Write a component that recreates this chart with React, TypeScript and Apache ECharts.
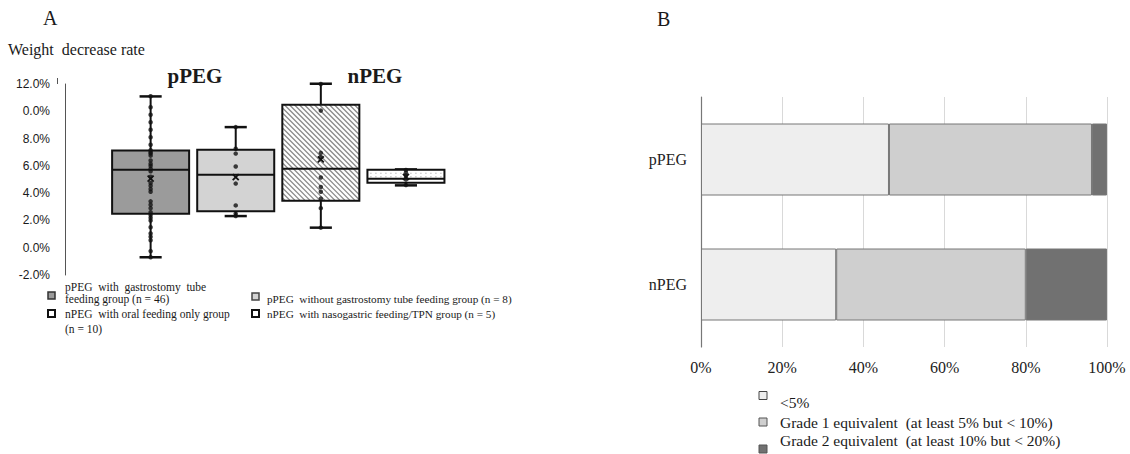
import React, { useEffect, useRef } from "react";
import * as echarts from "echarts";

// ---------- Panel A data ----------
const groupNames = [
  "pPEG with gastrostomy tube feeding group (n = 46)",
  "pPEG without gastrostomy tube feeding group (n = 8)",
  "nPEG with oral feeding only group (n = 10)",
  "nPEG with nasogastric feeding/TPN group (n = 5)",
];
// [min, Q1, median, Q3, max] in %
const boxStats = [
  [-0.7, 2.49, 5.72, 7.13, 11.09],
  [2.32, 2.68, 5.35, 7.18, 8.84],
  [1.47, 3.45, 5.79, 10.48, 12.02],
  [4.57, 4.77, 5.05, 5.72, 5.74],
];
const groupMeans = [5.06, 5.18, 6.47, 5.2];
const dotsG1 = [11.1, 10.3, 9.75, 9.2, 8.65, 8.1, 7.55, 7.15, 7.0, 6.9, 6.75, 6.4, 6.15, 6.0, 5.8, 5.6, 5.2, 4.75, 4.55, 4.3, 4.1, 3.4, 3.15, 2.9, 2.6, 2.4, 2.2, 2.0, 1.5, 1.05, 0.8, 0.55, -0.25, -0.7];
const dotsG2 = [8.84, 7.25, 6.9, 5.95, 4.7, 3.1, 2.5, 2.32];
const dotsG3 = [12.0, 10.05, 6.95, 6.65, 5.15, 4.45, 4.1, 3.6, 2.9, 1.47];
const dotsG4 = [5.7, 5.5, 5.3, 5.0, 4.6];
const yTickLabels = ["-2.0%", "0.0%", "2.0%", "4.0%", "6.0%", "8.0%", "0.0%", "12.0%"];

// ---------- Panel B data ----------
const barCategories = ["pPEG", "nPEG"];
const lt5 = [46.3, 33.3];
const grade1 = [50.0, 46.7];
const grade2 = [3.7, 20.0];
const barSeriesNames = [
  "<5%",
  "Grade 1 equivalent  (at least 5% but < 10%)",
  "Grade 2 equivalent  (at least 10% but < 20%)",
];
const xTickValues = [0, 20, 40, 60, 80, 100];

const SERIF = "Liberation Serif";
const SANS = "Liberation Sans";
const BOX_W = 0.905;
const CAP_W = 0.26;
const boxFills = ["#9b9b9b", "#d3d3d3", "#ffffff", "#ffffff"];
const barColors = ["#eeeeee", "#cfcfcf", "#717171"];

export default function App() {
  const ref = useRef<HTMLDivElement>(null);

  useEffect(() => {
    if (!ref.current) return;
    const chart = echarts.init(ref.current, null, { renderer: "svg" });

    const boxData = boxStats.map((s, i) => [i + 1, ...s, i]);
    const allDots = [dotsG1, dotsG2, dotsG3, dotsG4];
    const dotData: number[][] = [];
    allDots.forEach((arr, i) => arr.forEach((v) => dotData.push([i + 1, v])));
    const meanData = groupMeans.map((m, i) => [i + 1, m]);

    const boxRender = (params: any, api: any) => {
      const xi = api.value(0);
      const vMin = api.value(1), q1 = api.value(2), med = api.value(3), q3 = api.value(4), vMax = api.value(5);
      const st = api.value(6);
      const pMin = api.coord([xi, vMin]);
      const cx = pMin[0];
      const yMin = pMin[1];
      const yQ1 = api.coord([xi, q1])[1];
      const yMed = api.coord([xi, med])[1];
      const yQ3 = api.coord([xi, q3])[1];
      const yMax = api.coord([xi, vMax])[1];
      const w = api.size([BOX_W, 0])[0];
      const cw = api.size([CAP_W, 0])[0];
      const x0 = cx - w / 2, x1 = cx + w / 2;
      const y0 = yQ3, y1 = yQ1;
      const children: any[] = [];
      const lineStyle = { stroke: "#111", lineWidth: 2 };
      children.push({ type: "line", shape: { x1: cx, y1: yMax, x2: cx, y2: yQ3 }, style: lineStyle });
      children.push({ type: "line", shape: { x1: cx, y1: yQ1, x2: cx, y2: yMin }, style: lineStyle });
      children.push({ type: "line", shape: { x1: cx - cw / 2, y1: yMax, x2: cx + cw / 2, y2: yMax }, style: { stroke: "#111", lineWidth: 2.5 } });
      children.push({ type: "line", shape: { x1: cx - cw / 2, y1: yMin, x2: cx + cw / 2, y2: yMin }, style: { stroke: "#111", lineWidth: 2.5 } });
      children.push({ type: "rect", shape: { x: x0, y: y0, width: w, height: y1 - y0 }, style: { fill: boxFills[st] } });
      if (st === 2) {
        const s = 5;
        for (let c = y0 - x1; c <= y1 - x0; c += s) {
          const xa = Math.max(x0, y0 - c);
          const xb = Math.min(x1, y1 - c);
          if (xb > xa) {
            children.push({ type: "line", shape: { x1: xa, y1: xa + c, x2: xb, y2: xb + c }, style: { stroke: "#8a8a8a", lineWidth: 1.3 } });
          }
        }
      }
      if (st === 3) {
        for (let yy = y0 + 3; yy < yMed - 1.5; yy += 3.5) {
          for (let xx = x0 + 3; xx < x1 - 2; xx += 5) {
            children.push({ type: "rect", shape: { x: xx, y: yy, width: 1, height: 1 }, style: { fill: "#9a9a9a" } });
          }
        }
      }
      children.push({ type: "rect", shape: { x: x0, y: y0, width: w, height: y1 - y0 }, style: { fill: "none", stroke: "#111", lineWidth: 2 } });
      children.push({ type: "line", shape: { x1: x0, y1: yMed, x2: x1, y2: yMed }, style: { stroke: "#111", lineWidth: 2 } });
      return { type: "group", children };
    };

    const meanRender = (params: any, api: any) => {
      const p = api.coord([api.value(0), api.value(1)]);
      const r = 3;
      return {
        type: "group",
        children: [
          { type: "line", shape: { x1: p[0] - r, y1: p[1] - r, x2: p[0] + r, y2: p[1] + r }, style: { stroke: "#111", lineWidth: 1.8 } },
          { type: "line", shape: { x1: p[0] + r, y1: p[1] - r, x2: p[0] - r, y2: p[1] + r }, style: { stroke: "#111", lineWidth: 1.8 } },
        ],
      };
    };

    const txt = (text: string, x: number, y: number, size: number, extra: any = {}) => ({
      type: "text",
      x,
      y,
      style: { text, fontFamily: SERIF, fontSize: size, fill: "#1a1a1a", verticalAlign: "middle", align: "left", ...extra },
    });
    const sq = (x: number, y: number, s: number, fill: string, stroke: string, lw: number) => ({
      type: "rect",
      shape: { x, y, width: s, height: s },
      style: { fill, stroke, lineWidth: lw },
    });

    const option: any = {
      animation: false,
      backgroundColor: "#ffffff",
      grid: [
        { left: 57, top: 84, width: 400, height: 191 },
        { left: 701, top: 97, right: 23, bottom: 107 },
      ],
      xAxis: [
        { type: "value", gridIndex: 0, min: -0.1, max: 4.6, show: false },
        {
          type: "value",
          gridIndex: 1,
          min: xTickValues[0],
          max: xTickValues[xTickValues.length - 1],
          interval: 20,
          axisLine: { show: false },
          axisTick: { show: false },
          splitLine: { show: true, lineStyle: { color: "#d9d9d9", width: 1 } },
          axisLabel: { formatter: "{value}%", fontFamily: SERIF, fontSize: 16, color: "#222", margin: 12 },
        },
      ],
      yAxis: [
        {
          type: "value",
          gridIndex: 0,
          min: -2,
          max: 12,
          interval: 2,
          axisLine: { show: true, lineStyle: { color: "#555", width: 1 } },
          axisTick: { show: false },
          splitLine: { show: false },
          axisLabel: {
            fontFamily: SANS,
            fontSize: 12,
            color: "#1a1a1a",
            margin: 7,
            formatter: (v: number) => yTickLabels[Math.round((v + 2) / 2)] ?? "",
          },
        },
        {
          type: "category",
          gridIndex: 1,
          data: barCategories,
          inverse: true,
          axisLine: { show: true, lineStyle: { color: "#777", width: 1.2 } },
          axisTick: { show: false },
          axisLabel: { fontFamily: SERIF, fontSize: 16, color: "#222", margin: 14 },
        },
      ],
      series: [
        {
          type: "custom",
          name: "box",
          xAxisIndex: 0,
          yAxisIndex: 0,
          data: boxData,
          renderItem: boxRender,
          clip: false,
          z: 2,
        },
        {
          type: "scatter",
          name: "points",
          xAxisIndex: 0,
          yAxisIndex: 0,
          data: dotData,
          symbol: "circle",
          symbolSize: 4.5,
          itemStyle: { color: "#111" },
          z: 3,
        },
        {
          type: "custom",
          name: "mean",
          xAxisIndex: 0,
          yAxisIndex: 0,
          data: meanData,
          renderItem: meanRender,
          clip: false,
          z: 4,
        },
        ...[lt5, grade1, grade2].map((d, k) => ({
          type: "bar",
          name: barSeriesNames[k],
          xAxisIndex: 1,
          yAxisIndex: 1,
          stack: "total",
          data: d,
          barWidth: 72,
          itemStyle: { color: barColors[k], borderColor: "#777", borderWidth: 1 },
        })),
      ],
      graphic: [
        // extend left axis line slightly above the top tick, as in the reference
        { type: "line", shape: { x1: 57.5, y1: 78, x2: 57.5, y2: 84 }, style: { stroke: "#555", lineWidth: 1 } },
        txt("A", 43, 18, 20),
        txt("B", 657, 19, 20),
        txt("Weight  decrease rate", 8, 49, 16),
        txt("pPEG", 195, 76, 21, { fontWeight: "bold", align: "center" }),
        txt("nPEG", 375, 76, 21, { fontWeight: "bold", align: "center" }),
        // legend A
        sq(48, 292, 7, "#9b9b9b", "#333", 1.5),
        sq(48, 310, 7, "#ffffff", "#111", 2),
        sq(252, 293, 7, "#d3d3d3", "#444", 1.5),
        sq(252, 310, 7, "#ffffff", "#111", 2),
        txt("pPEG  with  gastrostomy  tube", 65, 287, 11.5),
        txt("feeding group (n = 46)", 65, 299, 11.5),
        txt("nPEG  with oral feeding only group", 65, 314, 11.5),
        txt("(n = 10)", 65, 329, 11.5),
        txt("pPEG  without gastrostomy tube feeding group (n = 8)", 267, 299, 11.2),
        txt("nPEG  with nasogastric feeding/TPN group (n = 5)", 267, 314, 11.2),
        // legend B
        sq(759, 391.5, 8, barColors[0], "#444", 1),
        sq(759, 418, 8, barColors[1], "#555", 1),
        sq(759, 445, 8, barColors[2], "#555", 1),
        txt(barSeriesNames[0], 780, 402, 15.5),
        txt(barSeriesNames[1], 780, 422.5, 15.5),
        txt(barSeriesNames[2], 780, 440.7, 15.5),
      ],
    };

    chart.setOption(option);
    return () => chart.dispose();
  }, []);

  return <div ref={ref} style={{ position: "fixed", left: 0, top: 0, width: 1130, height: 454 }} />;
}
